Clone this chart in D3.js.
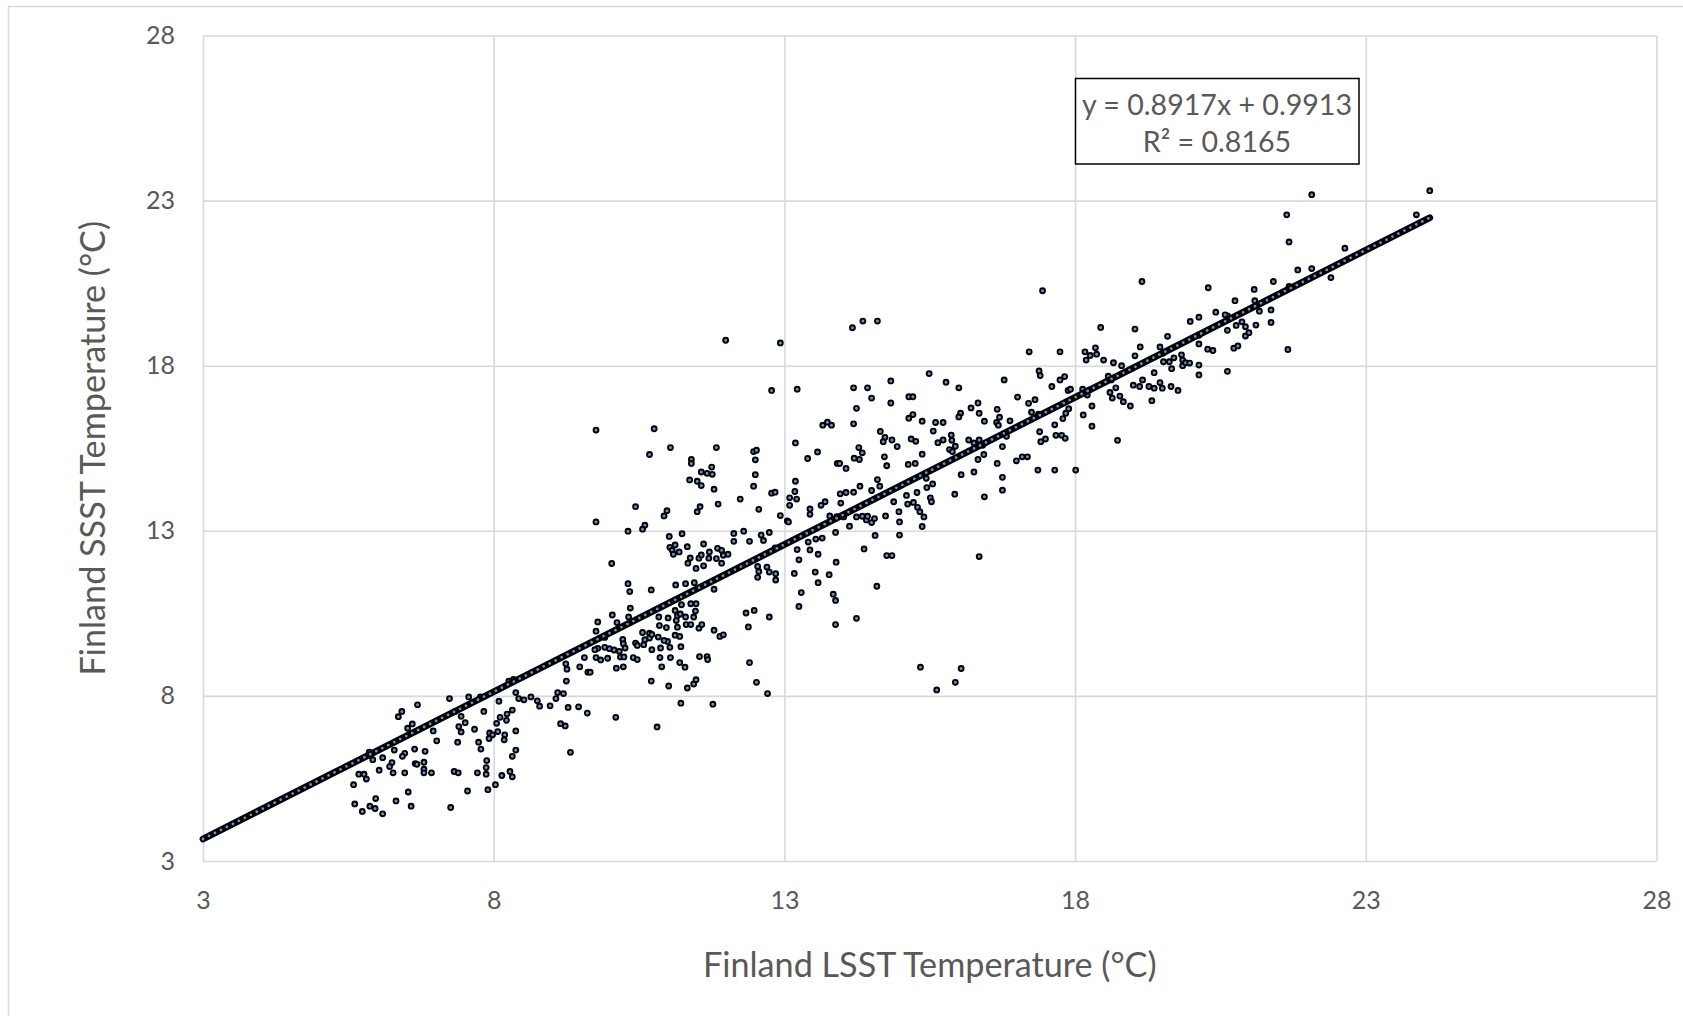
<!DOCTYPE html>
<html>
<head>
<meta charset="utf-8">
<script src="https://cdn.jsdelivr.net/npm/d3@7"></script>
<style>
  html, body { margin: 0; padding: 0; background: #ffffff; }
  svg { display: block; }
  text { font-family: Lato, "Noto Sans", sans-serif; fill: #595959; }
</style>
</head>
<body>
<svg id="chart" width="1683" height="1016"></svg>
<script>
// ---------------- DATA ----------------
const xTicks = [3, 8, 13, 18, 23, 28];
const yTicks = [3, 8, 13, 18, 23, 28];
const xTitle = "Finland LSST Temperature (°C)";
const yTitle = "Finland SSST Temperature (°C)";
const eqLine1 = "y = 0.8917x + 0.9913";
const eqLine2 = "R² = 0.8165";
const trendSlope = 0.8917;
const trendIntercept = 0.9913;
const trendXRange = [3, 24.1];

// [LSST, SSST] pairs
const points = [
[6.69,7.73],[6.42,7.53],[6.36,7.37],[6.60,7.15],[6.52,7.02],[7.24,7.92],[7.57,7.97],[7.33,7.52],[7.44,7.38],[7.51,7.19],
[7.40,7.07],[7.44,6.91],[6.96,6.94],[7.02,6.64],[7.38,6.60],[7.67,6.99],[7.83,7.53],[7.77,7.97],[8.09,7.84],[7.93,6.88],
[7.98,6.82],[7.92,6.71],[8.07,6.92],[8.05,7.17],[8.11,7.35],[8.22,7.26],[8.23,7.45],[8.32,7.57],[8.19,6.82],[8.18,6.67],
[8.38,6.94],[7.74,6.60],[7.78,6.39],[8.38,6.36],[8.32,6.17],[7.88,6.04],[7.87,5.83],[7.87,5.63],[7.72,5.67],[7.32,5.71],
[7.39,5.67],[8.14,5.59],[8.28,5.71],[8.32,5.55],[8.03,5.31],[7.90,5.16],[7.55,5.12],[7.26,4.62],[6.64,6.39],[6.82,6.32],
[6.65,5.95],[6.68,5.93],[6.80,5.99],[6.80,5.78],[6.80,5.67],[6.93,5.67],[6.47,6.26],[6.43,6.17],[6.29,6.36],[6.09,6.13],
[5.92,6.07],[6.25,5.98],[6.21,5.86],[6.27,5.67],[6.47,5.67],[6.03,5.75],[5.68,5.63],[5.77,5.63],[5.81,5.48],[5.59,5.31],
[6.53,5.09],[5.97,4.89],[6.32,4.82],[6.58,4.66],[5.61,4.73],[5.87,4.66],[5.96,4.59],[5.74,4.50],[6.09,4.43],[5.86,6.30],
[5.89,6.23],[8.38,8.10],[8.43,7.92],[8.52,7.88],[8.64,7.97],[8.75,7.85],[8.79,7.69],[8.97,7.70],[9.07,7.92],[9.10,8.10],
[9.20,8.07],[9.15,7.16],[9.23,7.09],[9.28,7.65],[9.25,8.45],[9.26,8.81],[9.24,8.97],[9.32,6.29],[8.26,8.45],[8.34,8.50],
[10.81,7.06],
[11.99,18.77],[12.93,18.69],[12.78,17.25],[13.22,17.29],[9.76,16.05],[10.76,16.09],[10.68,15.31],[11.04,15.52],[11.83,15.52],
[11.40,15.16],[11.40,15.04],[11.37,14.54],[11.50,14.50],[11.57,14.37],[11.57,14.78],[11.67,14.74],[11.75,14.93],[11.76,14.71],[11.79,14.26],
[12.47,15.40],[12.52,15.44],[12.50,15.15],[12.50,14.70],[12.47,14.35],[12.24,13.96],[12.56,13.65],[12.78,14.14],[12.84,14.17],[10.44,13.73],
[10.98,13.61],[10.93,13.45],[11.50,13.58],[11.55,13.73],[11.86,13.81],[9.76,13.27],[10.31,12.99],[10.60,13.17],[10.56,13.05],[12.93,13.46],
[13.05,13.30],[13.07,13.27],[13.19,15.66],[13.19,14.50],[13.18,14.19],[13.09,14.00],[13.21,13.96],[13.09,13.77],[11.02,12.83],[11.24,12.91],
[11.03,12.50],[11.07,12.41],[11.09,12.29],[11.12,12.57],[11.19,12.36],[11.33,12.52],[11.34,12.02],[11.38,12.18],[11.48,11.86],[11.53,12.17],
[11.61,12.60],[11.57,12.27],[11.61,11.94],[11.71,12.36],[11.70,12.17],[11.83,12.16],[11.85,12.47],[11.92,12.41],[11.95,12.26],[12.03,12.29],
[11.92,12.02],[12.13,12.92],[12.13,12.68],[12.30,12.99],[12.40,12.68],[12.60,12.87],[12.64,12.71],[12.74,12.95],[12.84,12.48],[12.54,11.92],
[12.56,11.77],[12.54,11.59],[12.70,11.90],[12.74,11.75],[12.85,11.70],[12.85,11.51],[13.17,11.71],[13.22,12.43],[13.25,12.12],[10.03,12.01],
[10.31,11.40],[10.34,11.16],[10.71,11.21],[11.13,11.36],[11.30,11.40],[11.45,11.43],[11.79,11.23],[10.35,10.66],[10.04,10.45],[10.12,10.22],
[10.32,10.39],[9.79,10.24],[9.76,9.96],[9.79,9.44],[9.91,9.77],[9.91,9.47],[9.99,9.43],[10.07,9.39],[10.22,9.71],[10.23,9.58],
[10.26,9.45],[10.16,9.35],[10.18,9.18],[10.24,9.18],[10.11,8.84],[10.23,8.88],[10.44,9.60],[10.47,9.53],[10.56,9.92],[10.68,9.90],
[10.68,9.75],[10.60,9.70],[10.58,9.55],[10.72,9.40],[10.72,9.86],[10.83,9.78],[10.84,10.39],[10.85,10.13],[10.97,10.07],[11.00,10.36],
[10.99,9.65],[10.93,9.68],[10.87,9.45],[11.03,9.47],[11.12,9.84],[11.20,9.80],[11.22,9.49],[11.14,10.28],[11.16,10.08],[11.16,10.43],
[11.12,10.59],[11.23,10.76],[11.21,10.48],[11.30,10.39],[11.31,10.16],[11.39,10.16],[11.44,10.39],[11.47,10.57],[11.48,10.79],[11.39,10.79],
[11.53,10.05],[11.58,10.16],[11.79,9.99],[11.89,9.80],[11.95,9.85],[9.76,9.16],[9.84,9.09],[9.96,9.14],[9.62,8.72],[9.66,8.72],
[9.48,8.88],[9.56,9.16],[9.74,9.40],[10.40,9.16],[10.47,9.10],[10.86,9.16],[10.89,8.88],[11.04,9.16],[11.20,9.01],[11.29,8.87],
[10.71,8.45],[11.01,8.30],[11.33,8.24],[11.44,8.36],[11.48,8.49],[11.54,9.19],[11.67,9.19],[11.68,9.10],[12.34,10.51],[12.48,10.59],
[12.38,10.09],[12.74,10.39],[12.40,9.01],[12.52,8.41],[12.71,8.07],[11.22,7.78],[11.77,7.75],[9.46,7.67],[9.61,7.48],[10.10,7.35],
[14.17,19.15],[14.35,19.35],[14.60,19.35],[14.19,17.33],[14.43,17.33],[14.50,17.02],[14.24,16.71],[14.19,16.24],[13.66,16.20],[13.74,16.29],
[13.81,16.20],[14.83,17.54],[14.83,16.87],[15.49,17.76],[15.78,17.50],[16.00,17.33],[16.78,17.57],[15.14,17.06],[15.21,17.06],[16.21,16.72],
[16.33,16.87],[16.03,16.56],[16.00,16.45],[16.35,16.56],[16.44,16.32],[16.66,16.68],[16.70,16.44],[16.65,16.28],[16.68,16.20],[15.37,16.32],
[15.60,16.28],[15.73,16.28],[15.14,16.41],[15.21,16.52],[13.57,15.39],[13.40,15.19],[14.65,16.01],[14.73,15.83],[14.70,15.70],[14.85,15.75],
[14.94,15.55],[14.28,15.52],[14.34,15.36],[14.20,15.20],[14.29,15.16],[13.91,15.04],[13.95,15.04],[14.06,14.89],[14.72,15.24],[14.76,14.97],
[15.18,15.78],[15.26,15.71],[15.37,15.32],[15.13,15.01],[15.25,15.04],[15.56,16.02],[15.64,15.67],[15.73,15.75],[15.87,15.90],[15.88,15.74],
[15.94,15.56],[15.84,15.46],[15.89,15.40],[16.17,15.75],[16.26,15.66],[16.35,15.75],[16.41,15.59],[16.43,15.31],[16.33,15.16],[16.26,14.78],
[16.04,14.70],[15.93,14.11],[16.44,14.03],[16.66,15.04],[16.75,15.55],[16.75,14.62],[16.75,14.23],[16.82,15.86],[13.44,13.66],[13.44,13.50],
[13.63,13.77],[13.70,13.88],[13.96,14.12],[14.06,14.16],[14.19,14.17],[14.30,14.35],[13.97,13.84],[14.50,14.22],[14.60,14.55],[14.64,14.35],
[14.88,13.88],[14.74,13.45],[14.97,13.58],[14.98,13.27],[14.98,12.87],[15.10,14.07],[15.12,13.81],[15.22,13.86],[15.28,14.16],[15.29,13.71],
[15.33,13.58],[15.40,13.42],[15.37,13.13],[15.45,14.31],[15.51,14.00],[15.53,13.88],[15.55,14.42],[15.44,14.59],[13.78,13.45],[13.90,13.43],
[14.02,13.42],[14.12,13.14],[14.24,13.42],[14.34,13.44],[14.41,13.33],[14.43,13.44],[14.50,13.25],[14.55,13.37],[14.56,12.86],[13.88,12.95],
[13.41,12.66],[13.44,12.42],[13.58,12.29],[13.65,12.78],[13.54,12.75],[13.77,11.67],[13.53,11.75],[13.58,11.43],[13.29,11.13],[13.25,10.71],
[13.84,11.08],[13.88,10.89],[13.88,10.16],[13.89,12.05],[14.37,12.45],[14.24,10.35],[14.59,11.32],[14.76,12.25],[14.85,12.25],[16.35,12.22],
[15.34,8.87],[15.62,8.18],[15.94,8.41],[16.04,8.83],
[17.44,20.27],[19.15,20.55],[20.29,20.36],[21.08,20.31],[20.75,19.97],[21.09,19.97],[20.42,19.62],[19.98,19.34],[20.13,19.47],[19.03,19.11],
[18.44,19.16],[18.35,18.54],[18.17,18.42],[18.19,18.17],[18.37,18.35],[18.26,18.31],[18.49,18.17],[18.66,18.09],[18.80,18.00],[19.12,18.57],
[19.03,18.30],[19.46,18.57],[19.59,18.89],[17.21,18.42],[17.74,18.42],[17.38,17.84],[17.40,17.70],[17.60,17.37],[17.74,17.57],[17.82,17.67],
[17.88,17.25],[17.92,17.29],[17.01,17.05],[17.20,16.86],[17.31,16.97],[17.25,16.59],[17.37,16.53],[16.88,16.33],[17.79,16.40],[17.84,16.56],
[17.89,16.70],[17.65,16.21],[17.39,16.00],[17.41,15.70],[17.49,15.78],[17.67,15.89],[17.77,15.89],[17.83,15.80],[17.09,15.24],[17.18,15.24],
[16.99,15.12],[17.36,14.84],[17.65,14.84],[18.01,14.84],[18.14,16.51],[18.29,16.78],[18.29,16.17],[18.13,17.29],[18.21,17.11],[18.25,17.27],
[18.73,15.74],[18.57,17.68],[18.62,17.57],[18.70,17.33],[18.60,17.19],[18.64,17.02],[18.77,17.08],[18.83,16.91],[18.95,16.78],[19.00,17.41],
[19.11,17.37],[19.16,17.57],[19.27,17.37],[19.36,17.32],[19.32,16.94],[19.36,17.79],[19.46,17.49],[19.50,17.32],[19.66,17.91],[19.65,17.37],
[19.77,17.25],[19.70,18.24],[19.83,18.33],[19.85,18.17],[19.85,18.00],[19.90,18.09],[19.97,18.08],[20.13,18.02],[20.13,17.72],[19.62,18.12],
[19.52,18.12],[19.51,18.38],[20.62,17.83],[20.28,18.50],[20.37,18.46],[20.73,18.53],[20.80,18.60],[20.62,19.07],[20.77,19.22],[20.87,19.33],
[20.93,19.18],[20.93,18.90],[20.99,19.00],[21.11,19.23],[20.13,18.66],[20.13,18.92],[20.62,19.51],[20.58,19.54],
[22.07,23.18],[24.10,23.30],[23.87,22.57],[21.64,22.57],[21.68,21.75],[22.64,21.56],[21.83,20.90],[22.07,20.94],[22.40,20.67],[21.41,20.55],
[21.37,19.69],[21.37,19.31],[21.66,18.49],[21.68,20.40],[21.17,19.65]
];

// ---------------- CHART ----------------
const svg = d3.select("#chart");
const W = 1683, H = 1016;
const plot = { left: 203, right: 1656.5, top: 35.5, bottom: 861 };

// outer chart border (cropped Excel chart area)
svg.append("rect")
  .attr("x", 8.5).attr("y", 6.5)
  .attr("width", W + 20).attr("height", H + 20)
  .attr("fill", "#ffffff")
  .attr("stroke", "#d9d9d9").attr("stroke-width", 1.5);

const x = d3.scaleLinear().domain([3, 28]).range([plot.left, plot.right]);
const y = d3.scaleLinear().domain([3, 28]).range([plot.bottom, plot.top]);

// gridlines
const gridX = svg.append("g")
  .attr("transform", `translate(0,${plot.bottom})`)
  .call(d3.axisBottom(x).tickValues(xTicks).tickSize(-(plot.bottom - plot.top)).tickFormat(""));
const gridY = svg.append("g")
  .attr("transform", `translate(${plot.left},0)`)
  .call(d3.axisLeft(y).tickValues(yTicks).tickSize(-(plot.right - plot.left)).tickFormat(""));
[gridX, gridY].forEach(g => {
  g.select(".domain").remove();
  g.selectAll(".tick line").attr("stroke", "#d9d9d9").attr("stroke-width", 1.6);
});

// tick labels
const axX = svg.append("g")
  .attr("transform", `translate(0,${plot.bottom})`)
  .call(d3.axisBottom(x).tickValues(xTicks).tickSize(0).tickPadding(30).tickFormat(d3.format("d")));
const axY = svg.append("g")
  .attr("transform", `translate(${plot.left},0)`)
  .call(d3.axisLeft(y).tickValues(yTicks).tickSize(0).tickPadding(28).tickFormat(d3.format("d")));
[axX, axY].forEach(g => {
  g.select(".domain").remove();
  g.selectAll(".tick text")
    .attr("font-family", "Lato, 'Noto Sans', sans-serif")
    .attr("font-size", 25)
    .attr("fill", "#595959");
});

// axis titles
svg.append("text")
  .attr("x", (plot.left + plot.right) / 2)
  .attr("y", 963)
  .attr("text-anchor", "middle")
  .attr("dominant-baseline", "central")
  .attr("font-size", 34.2)
  .text(xTitle);

svg.append("text")
  .attr("transform", `translate(91,${(plot.top + plot.bottom) / 2}) rotate(-90)`)
  .attr("text-anchor", "middle")
  .attr("dominant-baseline", "central")
  .attr("font-size", 34.2)
  .text(yTitle);

// scatter points
svg.append("g")
  .selectAll("circle")
  .data(points)
  .join("circle")
  .attr("cx", d => x(d[0]))
  .attr("cy", d => y(d[1]))
  .attr("r", 2.45)
  .attr("fill", "#5b9bd5")
  .attr("stroke", "#000000")
  .attr("stroke-width", 1.9);

// trend series (dense markers along the fitted line)
const trendData = trendXRange.map(v => [v, trendSlope * v + trendIntercept]);
const trendLine = d3.line().x(d => x(d[0])).y(d => y(d[1]));
svg.append("path")
  .attr("d", trendLine(trendData))
  .attr("fill", "none")
  .attr("stroke", "#000000")
  .attr("stroke-width", 6.8)
  .attr("stroke-linecap", "round");
svg.append("path")
  .attr("d", trendLine(trendData))
  .attr("fill", "none")
  .attr("stroke", "#5b9bd5")
  .attr("stroke-width", 2.8)
  .attr("stroke-linecap", "round")
  .attr("stroke-dasharray", "0 6.7");

// equation label
const eqG = svg.append("g");
eqG.append("rect")
  .attr("x", 1075.5).attr("y", 78.5)
  .attr("width", 283.5).attr("height", 85.5)
  .attr("fill", "#ffffff")
  .attr("stroke", "#000000").attr("stroke-width", 1.5);
eqG.append("text")
  .attr("x", 1217).attr("y", 104)
  .attr("text-anchor", "middle").attr("dominant-baseline", "central")
  .attr("font-size", 28.6)
  .text(eqLine1);
eqG.append("text")
  .attr("x", 1217).attr("y", 141)
  .attr("text-anchor", "middle").attr("dominant-baseline", "central")
  .attr("font-size", 28.6)
  .text(eqLine2);
</script>
</body>
</html>
